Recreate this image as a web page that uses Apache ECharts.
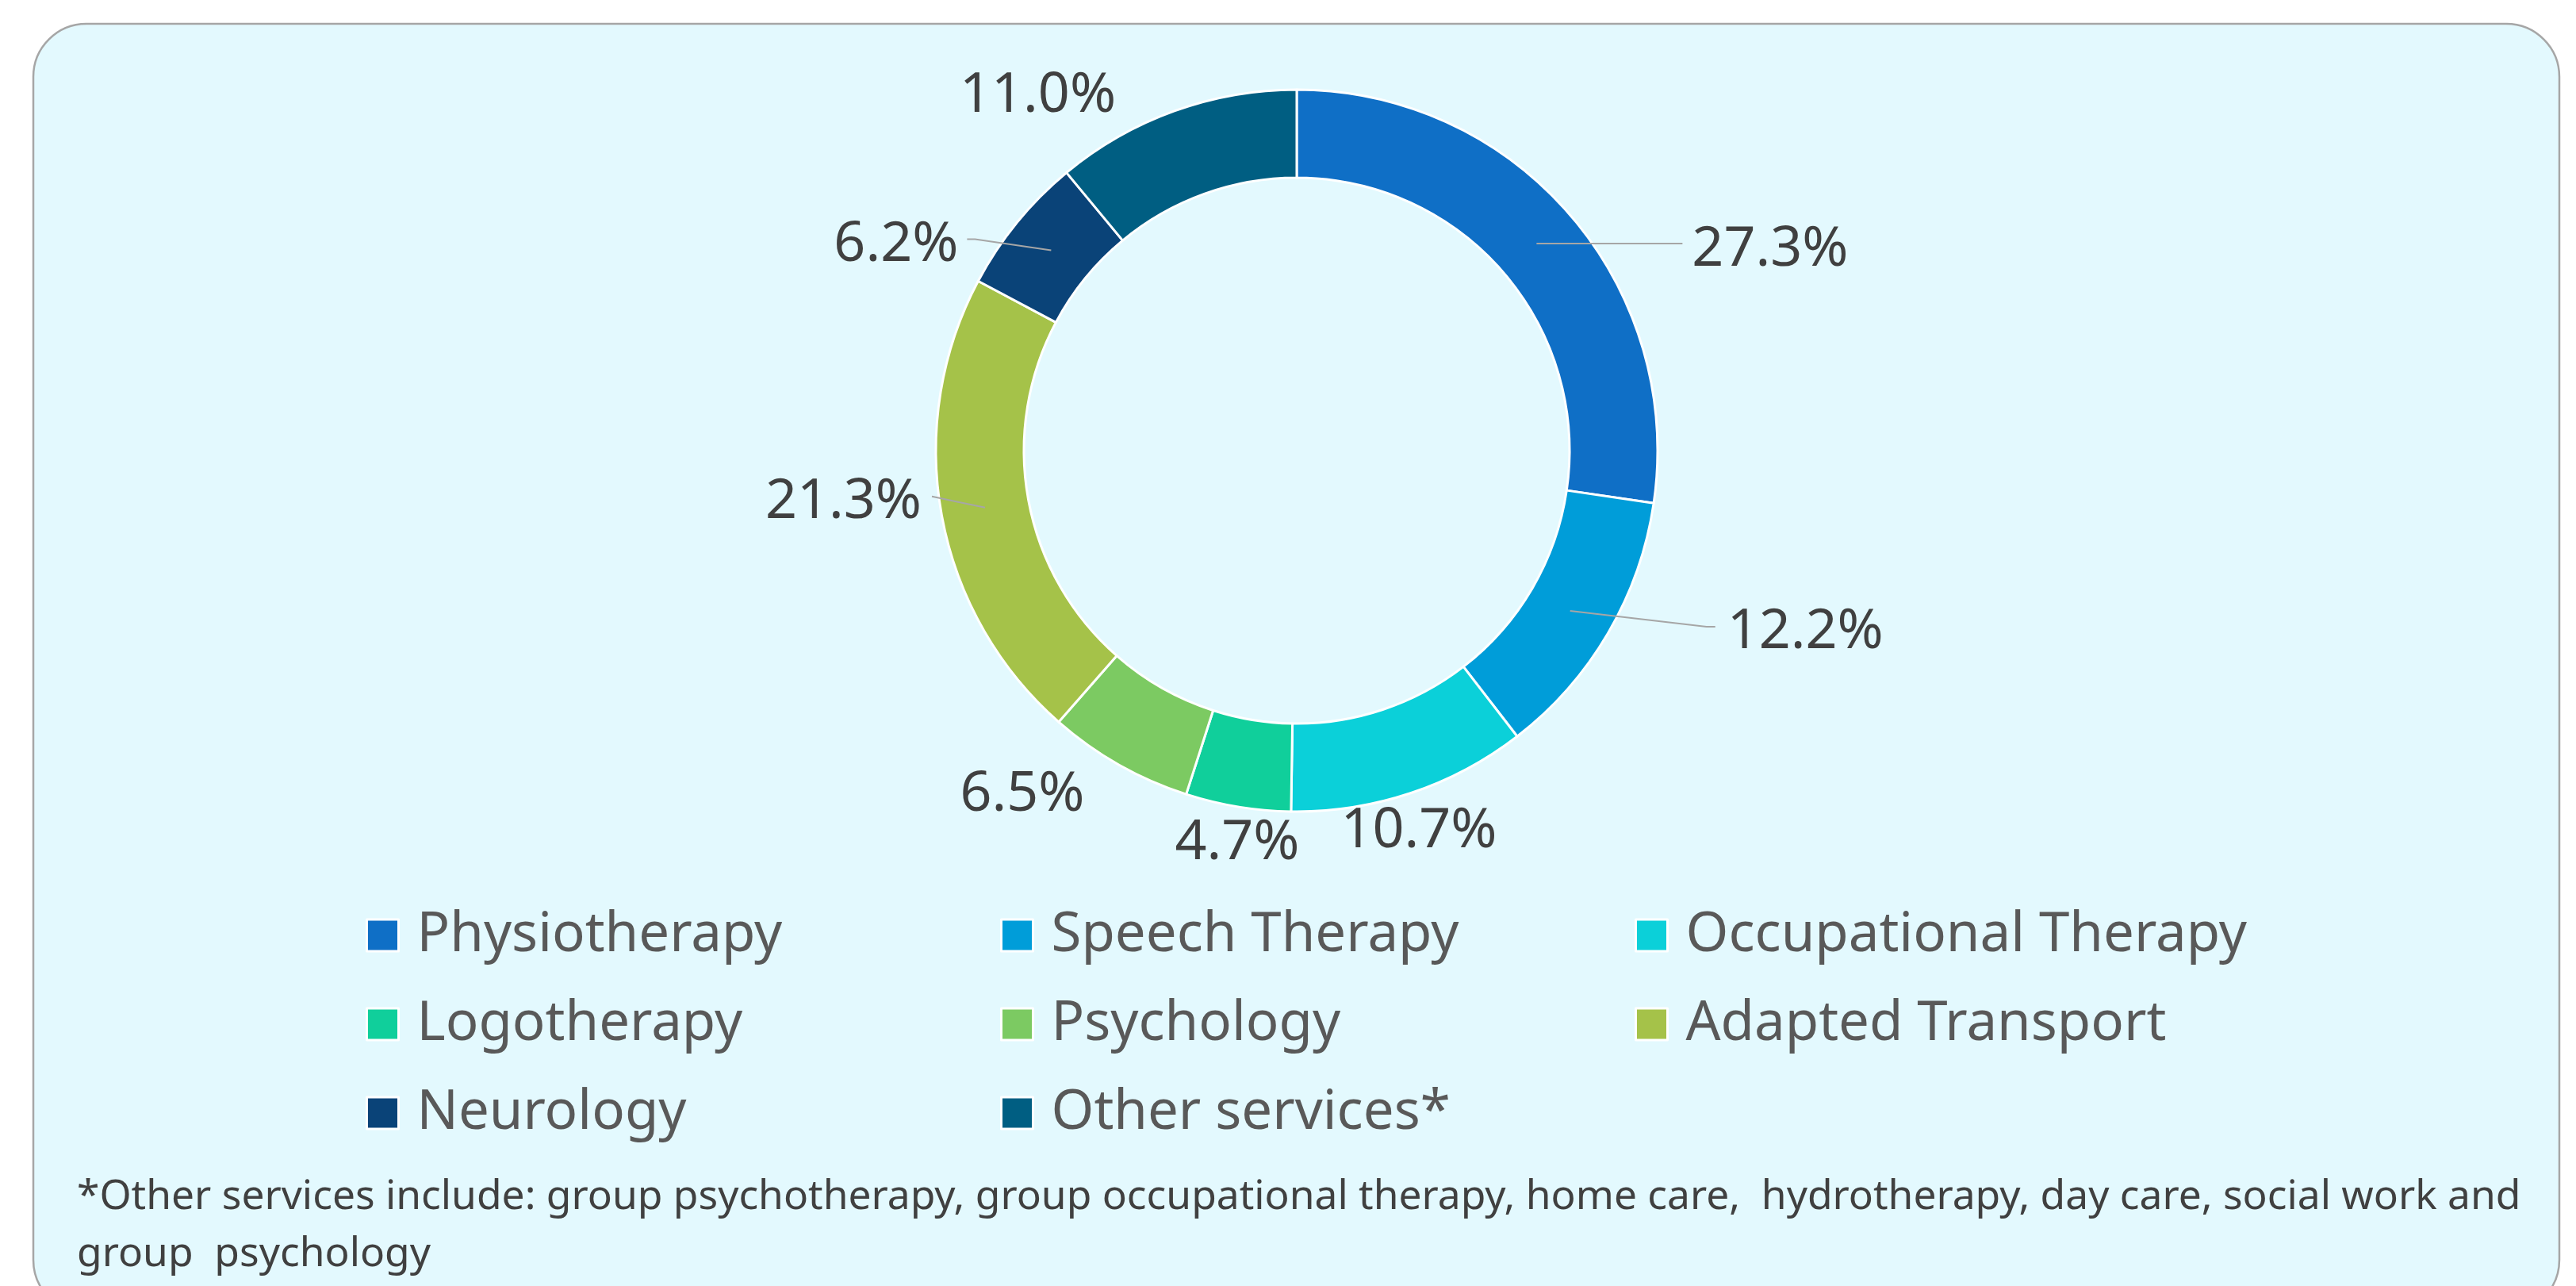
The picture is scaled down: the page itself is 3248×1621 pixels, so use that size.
<!DOCTYPE html>
<html><head><meta charset="utf-8">
<script src="https://cdn.jsdelivr.net/npm/echarts@6/dist/echarts.min.js"></script>
<style>html,body{margin:0;padding:0;background:#ffffff;} #c{width:3248px;height:1621px;}</style>
</head><body><div id="c"></div>
<script>
// ---- data ----
const categories = ['Physiotherapy', 'Speech Therapy', 'Occupational Therapy', 'Logotherapy', 'Psychology', 'Adapted Transport', 'Neurology', 'Other services*'];
const shares = [27.3, 12.2, 10.7, 4.7, 6.5, 21.3, 6.2, 11.0];
const sliceColors = ['#0F6FC6', '#009DD9', '#0BD0D9', '#10CF9B', '#7CCA62', '#A5C249', '#0A4378', '#005E82'];
const legendColumns = [[0, 3, 6], [1, 4, 7], [2, 5]];
const footnoteLines = [
  '*Other services include: group psychotherapy, group occupational therapy, home care,  hydrotherapy, day care, social work and',
  'group  psychology'
];

// ---- layout (positions/styles, kept apart from the data) ----
const CX = 1635, CY = 568, R_IN = 344, R_OUT = 455;
const FONT = 'Noto Sans';
const LABEL_DY = 5;
// label offsets relative to the slice's mid-ring point
const labelCfg = [
  { align: 'left',   lx: 196, ly: 3,   line: [[92, 0], [184, 0]] },
  { align: 'left',   lx: 198, ly: 22,  line: [[172, 20], [183, 20]] },
  { align: 'center', lx: 28,  ly: 96 },
  { align: 'center', lx: -10, ly: 96 },
  { align: 'center', lx: -149, ly: 82 },
  { align: 'right',  lx: -80, ly: -12, line: [[-34, -7], [-67, -14]] },
  { align: 'right',  lx: -117, ly: -12, line: [[-96, -14], [-106, -14]] },
  { align: 'center', lx: -191, ly: -76 }
];

const total = shares.reduce((a, b) => a + b, 0);
function midPoint(i) {
  let cum = 0;
  for (let k = 0; k < i; k++) cum += shares[k];
  const theta = 2 * Math.PI * (cum + shares[i] / 2) / total;
  const rm = (R_IN + R_OUT) / 2;
  return [CX + rm * Math.sin(theta), CY - rm * Math.cos(theta)];
}

const leaderLines = [];
labelCfg.forEach((c, i) => {
  if (!c.line) return;
  const m = midPoint(i);
  leaderLines.push({
    type: 'polyline', z: 50, silent: true,
    shape: { points: [m].concat(c.line.map(p => [m[0] + p[0], m[1] + p[1]])) },
    style: { stroke: '#A6A6A6', lineWidth: 2, fill: null }
  });
});

const chart = echarts.init(document.getElementById('c'), null, { renderer: 'canvas' });

const legendBase = {
  orient: 'vertical', top: 1139, padding: 0, itemWidth: 40, itemHeight: 40, itemGap: 32,
  icon: 'rect', selectedMode: false,
  itemStyle: { borderColor: '#ffffff', borderWidth: 3 },
  textStyle: { fontFamily: FONT, fontSize: 69, color: '#595959', lineHeight: 80, padding: [0, 0, 0, 18] }
};
const legendLefts = [461, 1261, 2061];

chart.setOption({
  backgroundColor: '#ffffff',
  animation: false,
  color: sliceColors,
  graphic: [
    { type: 'rect', z: -10, shape: { x: 42, y: 30, width: 3185, height: 1625, r: 67 },
      style: { fill: '#E3F9FE', stroke: '#A6A6A6', lineWidth: 2.5 } },
    { type: 'text', left: 97, top: 1483, style: { text: footnoteLines[0], font: '51.5px "Noto Sans"', fill: '#404040' } },
    { type: 'text', left: 97, top: 1555, style: { text: footnoteLines[1], font: '51.5px "Noto Sans"', fill: '#404040' } }
  ].concat(leaderLines),
  legend: legendColumns.map((col, j) => Object.assign({}, legendBase, {
    left: legendLefts[j], data: col.map(i => categories[i])
  })),
  series: [{
    type: 'pie',
    center: [CX, CY],
    radius: [R_IN, R_OUT],
    startAngle: 90,
    clockwise: true,
    avoidLabelOverlap: false,
    itemStyle: { borderColor: '#ffffff', borderWidth: 3 },
    label: {
      show: true, position: 'outside', fontFamily: FONT, fontSize: 70, color: '#404040',
      formatter: p => p.value.toFixed(1) + '%'
    },
    labelLine: { show: false },
    emphasis: { disabled: true },
    labelLayout: function (params) {
      const i = params.dataIndex;
      const c = labelCfg[i];
      const m = midPoint(i);
      return { x: m[0] + c.lx, y: m[1] + c.ly + LABEL_DY, align: c.align, verticalAlign: 'middle' };
    },
    data: categories.map((name, i) => ({ name: name, value: shares[i] }))
  }]
});
</script>
</body></html>
